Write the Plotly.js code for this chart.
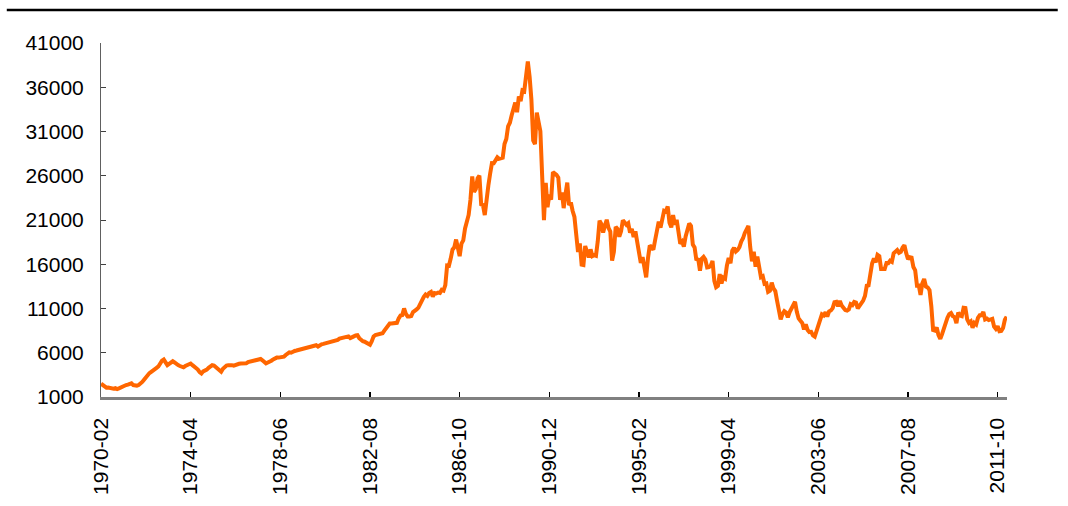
<!DOCTYPE html>
<html>
<head>
<meta charset="utf-8">
<script src="https://cdn.plot.ly/plotly-3.0.1.min.js"></script>
<style>html,body{margin:0;padding:0;background:#fff;}#chart{width:1068px;height:506px;}</style>
</head>
<body>
<div id="chart"></div>
<script>
// Monthly index values, starting 1970-02
var v1970s = [
  2500, 2350, 2150, 2050, 2080, 2000, 1980, 1950, 2000, 1900, 1980,
  2100, 2200, 2300, 2350, 2400, 2450, 2550, 2350, 2300, 2280, 2350, 2500,
  2700, 2950, 3250, 3550, 3700, 3850, 4050, 4250, 4300, 4450, 4800, 5100,
  5230, 4850, 4600, 4750, 4900, 5040, 4900, 4700, 4600, 4500, 4450, 4350,
  4500, 4600, 4750, 4780, 4600, 4450, 4300, 4100, 3800, 3650, 3900, 3950,
  4100, 4300, 4500, 4600, 4550, 4400, 4200, 4000, 3850, 4200, 4450, 4550,
  4600, 4650, 4600, 4550, 4650, 4700, 4750, 4780, 4750, 4720, 4800, 4950,
  5000, 5050, 5000, 5050, 5100, 5150, 5300, 5150, 4950, 4800, 4900, 4950,
  5100, 5250, 5400, 5450, 5450, 5500, 5600, 5550, 5750, 5900, 6050, 6000,
  6150, 6200, 6250, 6300, 6350, 6450, 6450, 6550, 6600, 6650, 6700, 6750
];
var v1980s = [
  6800, 6850, 6700, 6900, 6950, 7000, 7050, 7100, 7100, 7150, 7250, 7300,
  7350, 7450, 7600, 7650, 7650, 7700, 7800, 7850, 7650, 7800, 7850, 7950,
  7980, 7650, 7400, 7300, 7250, 7150, 7050, 6900, 7300, 7850, 8000, 8050,
  8050, 8150, 8200, 8500, 8750, 9150, 9300, 9300, 9350, 9400, 9380, 9890,
  10200, 10250, 11000, 10400, 10100, 10100, 10150, 10600, 10700, 10900, 11100, 11540,
  11990, 12320, 12580, 12430, 12760, 12880, 12350, 12740, 12700, 12800, 12750, 13110,
  13020, 13640, 15860, 15830, 16640, 17650, 17910, 18790, 17850, 16910, 18330, 18700,
  20050, 20770, 21570, 23270, 25930, 24180, 24490, 25720, 26010, 22770, 22690, 21560,
  23620, 24890, 26260, 27430, 27420, 27770, 28080, 27910, 27920, 28040, 29580, 30160,
  31580, 31990, 32840, 33710, 34270, 33180, 34950, 34430, 35640, 35550, 37270, 38920
];
var v1990s = [
  37190, 34590, 29980, 29580, 33130, 31940, 31040, 25980, 20980, 25190, 22450, 23850,
  23290, 26410, 26290, 26110, 25790, 23290, 24120, 22340, 23920, 25220, 22690, 22980,
  22020, 21340, 19350, 17390, 18350, 15950, 15910, 18060, 17400, 16770, 17680, 16920,
  17020, 16950, 18590, 20920, 20550, 19590, 20380, 21030, 20110, 19700, 16410, 17420,
  20230, 20000, 19110, 19730, 20970, 20640, 20460, 20630, 19560, 19990, 19080, 19720,
  18650, 17050, 16140, 16810, 15440, 14520, 16680, 18120, 17910, 17650, 18740, 19870,
  20810, 20130, 21410, 22040, 21960, 22530, 20690, 20170, 21560, 20470, 21020, 19360,
  18330, 18560, 18000, 19150, 20070, 20600, 20330, 18230, 17890, 16460, 16640, 15260,
  16630, 16830, 16530, 15640, 15670, 15830, 16380, 14110, 13410, 13560, 14880, 13840,
  14500, 14370, 15840, 16700, 16110, 17530, 17860, 17440, 17610, 17940, 18560, 18930
];
var v2000s = [
  19540, 19960, 20340, 17970, 16330, 17410, 15730, 16860, 15750, 14540, 14650, 13790,
  13840, 12880, 13000, 13930, 13260, 12970, 11860, 10710, 9770, 10370, 10700, 10540,
  10000, 10590, 11020, 11490, 11760, 10620, 9880, 9620, 9380, 8640, 9220, 8580,
  8340, 8360, 7970, 7830, 8420, 9080, 9560, 10340, 10220, 10560, 10100, 10680,
  10780, 11040, 11720, 11760, 11240, 11860, 11330, 11080, 10820, 10770, 10900, 11490,
  11390, 11740, 11670, 11010, 11280, 11580, 11900, 12410, 13570, 13610, 14870, 16110,
  16650, 16210, 17060, 16910, 15470, 15510, 15460, 16140, 16130, 16400, 16270, 17230,
  17380, 17600, 17290, 17400, 17880, 18140, 17250, 16570, 16790, 16740, 15680, 15310,
  13590, 13600, 12530, 13850, 14340, 13480, 13380, 13070, 11260, 8580, 8510, 8860,
  7990, 7570, 8110, 8830, 9520, 9960, 10360, 10490, 10130, 10030, 9350, 10550
];
var v2010s = [
  10200, 10130, 11090, 11060, 9770, 9380, 9540, 8820, 9370, 9200, 9940, 10230,
  10240, 10620, 9760, 9850, 9690, 9820, 9830, 8960, 8700, 8990, 8430, 8460,
  8800, 9720, 10080
];
var tickLabels = ['1970-02','1974-04','1978-06','1982-08','1986-10','1990-12',
                  '1995-02','1999-04','2003-06','2007-08','2011-10'];
var yTicks = [1000, 6000, 11000, 16000, 21000, 26000, 31000, 36000, 41000];

var values = v1970s.concat(v1980s, v1990s, v2000s, v2010s);
var months = [];
var yr = 1970, mo = 2;
for (var i = 0; i < values.length; i++) {
  months.push(yr + '-' + (mo < 10 ? '0' + mo : '' + mo));
  mo++; if (mo > 12) { mo = 1; yr++; }
}

var trace = {
  x: months, y: values, type: 'scatter', mode: 'lines',
  line: {color: '#FF6600', width: 4},
  hoverinfo: 'x+y'
};

var layout = {
  width: 1068, height: 506,
  margin: {l: 101, r: 61, t: 43, b: 109, pad: 0},
  paper_bgcolor: '#ffffff', plot_bgcolor: '#ffffff',
  font: {family: '"Liberation Sans", Arial, sans-serif', size: 21, color: '#000000'},
  showlegend: false,
  xaxis: {
    type: 'category',
    range: [0, 505.2],
    tickmode: 'array', tickvals: tickLabels, ticktext: tickLabels,
    tickangle: -90,
    ticks: 'inside', ticklen: 5, tickwidth: 1.5, tickcolor: '#000000',
    showline: true, linecolor: '#808080', linewidth: 2.5,
    showgrid: false, zeroline: false,
    ticklabelstandoff: 10,
    tickfont: {size: 21}
  },
  yaxis: {
    range: [1000, 41000],
    tickmode: 'array', tickvals: yTicks, ticktext: yTicks.map(String),
    ticks: 'inside', ticklen: 5, tickwidth: 1, tickcolor: '#404040',
    showline: true, linecolor: '#606060', linewidth: 1,
    showgrid: false, zeroline: false,
    ticklabelstandoff: 12,
    tickfont: {size: 21}
  },
  shapes: [{
    type: 'line', xref: 'paper', yref: 'paper',
    x0: -0.104, x1: 1.056, y0: 1.093, y1: 1.093,
    line: {color: '#000000', width: 2.5}
  }]
};

Plotly.newPlot('chart', [trace], layout, {displayModeBar: false, staticPlot: true});
</script>
</body>
</html>
